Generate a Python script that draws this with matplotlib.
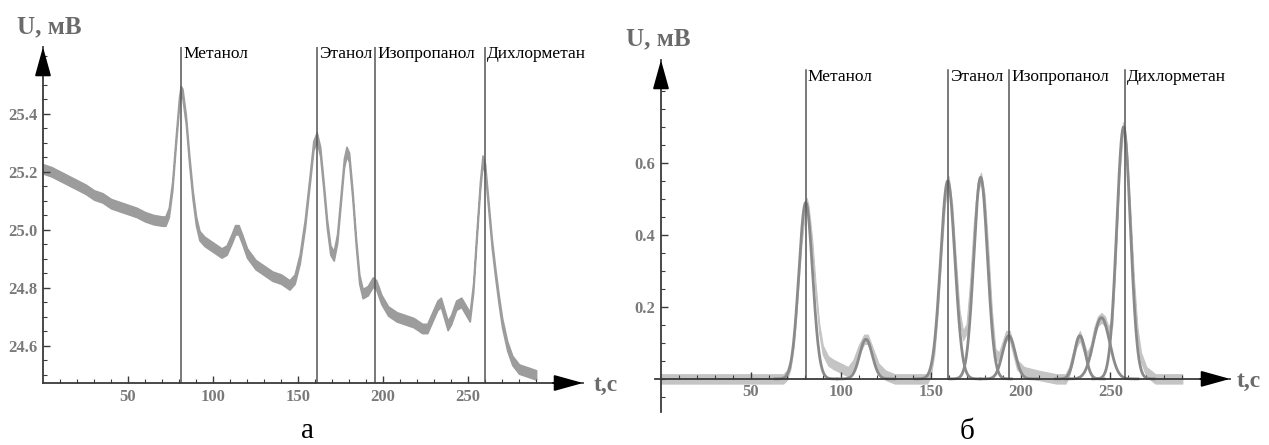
import numpy as np
import matplotlib
matplotlib.use('Agg')
import matplotlib.pyplot as plt

# Panel а: raw detector signal (centre of the noisy trace), t in s, U in mV
t_raw_a = [0, 5, 10, 15, 20, 25, 30, 35, 40, 45, 50, 55, 60, 65, 70, 72, 74, 76, 78, 80,
           81, 82, 84, 86, 88, 90, 92, 95, 100, 105, 108, 111, 113, 115, 117, 120, 125, 130,
           135, 140, 145, 148, 151, 154, 157, 159, 161, 163, 165, 167, 169, 171, 173, 175,
           177, 178.5, 180, 182, 184, 186, 188, 191, 194, 196, 199, 203, 208, 213, 218, 223,
           226, 229, 232, 234, 236, 238, 240, 243, 246, 249, 251, 253, 255, 257, 258.5, 260,
           262, 264, 266, 268, 270, 273, 276, 280, 285, 290]
u_raw_a = [25.21, 25.20, 25.185, 25.17, 25.155, 25.14, 25.12, 25.11, 25.09, 25.08, 25.07,
           25.06, 25.045, 25.035, 25.03, 25.03, 25.06, 25.15, 25.30, 25.44, 25.48, 25.47,
           25.38, 25.24, 25.12, 25.03, 24.98, 24.96, 24.94, 24.92, 24.93, 24.97, 25.00, 25.00,
           24.97, 24.92, 24.88, 24.86, 24.84, 24.83, 24.81, 24.83, 24.90, 25.02, 25.18, 25.29,
           25.32, 25.27, 25.15, 25.02, 24.93, 24.91, 24.97, 25.10, 25.23, 25.27, 25.25, 25.12,
           24.96, 24.83, 24.78, 24.79, 24.82, 24.81, 24.76, 24.72, 24.70, 24.69, 24.68, 24.66,
           24.66, 24.70, 24.74, 24.75, 24.71, 24.67, 24.69, 24.74, 24.75, 24.72, 24.70, 24.80,
           24.98, 25.15, 25.24, 25.21, 25.08, 24.95, 24.85, 24.76, 24.68, 24.60, 24.55, 24.52,
           24.51, 24.50]
noise_a = 0.016

# Panel б: baseline-corrected signal
t_raw_b = [0, 10, 20, 30, 40, 50, 60, 68, 70, 72, 74, 76, 78, 80, 81, 82, 84, 86, 88, 90,
           93, 96, 100, 104, 107, 110, 113, 115, 118, 121, 125, 130, 140, 148, 150, 152, 154,
           156, 158, 160, 162, 164, 166, 168, 170, 172, 174, 176, 178, 180, 182, 184, 186,
           188, 190, 192, 194, 196, 198, 202, 210, 220, 225, 227, 229, 231, 233, 235, 237,
           239, 241, 243, 245, 247, 249, 251, 253, 255, 257, 259, 261, 263, 265, 267, 270,
           275, 280, 285, 290]
u_raw_b = [0.0, 0.0, 0.0, 0.0, 0.0, 0.0, 0.0, 0.0, 0.01, 0.04, 0.11, 0.24, 0.38, 0.47, 0.49,
           0.47, 0.38, 0.25, 0.14, 0.08, 0.05, 0.04, 0.03, 0.02, 0.04, 0.08, 0.11, 0.11, 0.07,
           0.03, 0.01, 0.0, 0.0, 0.0, 0.02, 0.08, 0.20, 0.36, 0.50, 0.55, 0.47, 0.32, 0.18,
           0.12, 0.14, 0.26, 0.42, 0.53, 0.56, 0.50, 0.35, 0.18, 0.07, 0.06, 0.09, 0.12, 0.12,
           0.08, 0.04, 0.02, 0.01, 0.0, 0.0, 0.02, 0.06, 0.10, 0.12, 0.09, 0.06, 0.08, 0.13,
           0.16, 0.17, 0.16, 0.13, 0.16, 0.35, 0.58, 0.70, 0.64, 0.46, 0.27, 0.13, 0.06, 0.02,
           0.0, 0.0, 0.0, 0.0]
noise_b = 0.013

# Gaussian components fitted to panel б
peak_centers = [80.5, 114.0, 159.5, 177.8, 193.5, 233.0, 245.0, 257.3]
peak_heights = [0.49, 0.11, 0.55, 0.56, 0.12, 0.12, 0.17, 0.70]
peak_sigmas = [3.8, 3.5, 4.0, 3.8, 3.5, 3.0, 4.5, 3.8]

# Compound markers
names = ['Метанол', 'Этанол', 'Изопропанол', 'Дихлорметан']
marks_a = [81.2, 161.0, 195.3, 260.0]
marks_b = [80.5, 159.6, 193.5, 258.0]

x_ticks = [50, 100, 150, 200, 250]
y_ticks_a = [24.6, 24.8, 25.0, 25.2, 25.4]
y_ticks_b = [0.2, 0.4, 0.6]

W, H = 1269, 445
fig = plt.figure(figsize=(W / 100, H / 100), dpi=100)

serif = 'Liberation Serif'
axis_col = '#3a3a3a'
line_col = '#555555'
label_col = '#6a6a6a'


def px_axes(left, right, bottom, top):
    return fig.add_axes([left / W, (H - bottom) / H, (right - left) / W, (bottom - top) / H])


def style_axes(ax, yticks, ydec):
    for s in ['top', 'right']:
        ax.spines[s].set_visible(False)
    for s in ['left', 'bottom']:
        ax.spines[s].set_color(axis_col)
        ax.spines[s].set_linewidth(1.3)
    ax.set_xticks(x_ticks)
    ax.set_xticklabels([str(v) for v in x_ticks])
    ax.set_xticks(np.arange(10, 300, 10), minor=True)
    ax.set_yticks(yticks)
    ax.set_yticklabels([f'{v:.{ydec}f}' for v in yticks])
    ax.tick_params(direction='in', length=5, width=1, color=axis_col, pad=4)
    ax.tick_params(which='minor', direction='in', length=3, width=0.8, color=axis_col)
    for lab in ax.get_xticklabels() + ax.get_yticklabels():
        lab.set_fontfamily(serif)
        lab.set_fontweight('bold')
        lab.set_fontsize(12)
        lab.set_color('#7a7a7a')
    ax.patch.set_alpha(0)


arrow = dict(arrowstyle='-|>,head_length=1.8,head_width=0.5', color='black', lw=1.3,
             shrinkA=0, shrinkB=0)

# ---- panel а ----
ax1 = px_axes(43, 583, 383, 47)
ax1.set_xlim(0, 317.6)
ax1.set_ylim(24.472, 25.63)
ta = np.array(t_raw_a)
ua = np.array(u_raw_a)
ax1.fill_between(ta, ua - noise_a, ua + noise_a, color='#9c9c9c', lw=1.2, edgecolor='#9c9c9c')
for m, name in zip(marks_a, names):
    ax1.plot([m, m], [24.472, 25.63], color=line_col, lw=1.1)
    ax1.text(m + 1.2, 25.632, name, family=serif, size=12.5, va='top', ha='left')
style_axes(ax1, y_ticks_a, 1)
ax1.set_yticks(np.arange(24.5, 25.6, 0.05), minor=True)
ax1.annotate('', xy=(317.6, 24.472), xytext=(300, 24.472), arrowprops=arrow,
             annotation_clip=False)
ax1.annotate('', xy=(0, 25.63), xytext=(0, 25.57), arrowprops=arrow, annotation_clip=False)
fig.text(17 / W, (H - 33) / H, 'U, мВ', family=serif, weight='bold', size=18,
         color=label_col, va='baseline')
fig.text(594 / W, (H - 385) / H, 't,c', family=serif, weight='bold', size=17,
         color=label_col, va='center')
fig.text(307 / W, (H - 444) / H, 'а', family=serif, size=21, ha='center', va='bottom')

# ---- panel б ----
ax2 = px_axes(654.7, 1230, 412, 60)
ax2.set_xlim(-3.5, 316.5)
ax2.set_ylim(-0.092, 0.886)
ax2.spines['left'].set_position(('data', 0))
ax2.spines['bottom'].set_position(('data', 0))
tb = np.array(t_raw_b)
ub = np.array(u_raw_b)
ax2.fill_between(tb, ub - noise_b, ub + noise_b, color='#c4c4c4', lw=0.8, edgecolor='#c4c4c4')
for c, h, s in zip(peak_centers, peak_heights, peak_sigmas):
    tg = np.linspace(c - 4.5 * s, c + 4.5 * s, 200)
    ax2.plot(tg, h * np.exp(-0.5 * ((tg - c) / s) ** 2), color='#8a8a8a', lw=2)
for m, name in zip(marks_b, names):
    ax2.plot([m, m], [0, 0.858], color=line_col, lw=1.1)
    ax2.text(m + 1.2, 0.86, name, family=serif, size=12.5, va='top', ha='left')
style_axes(ax2, y_ticks_b, 1)
ax2.set_yticks(np.arange(-0.05, 0.85, 0.05), minor=True)
ax2.annotate('', xy=(316.5, 0), xytext=(300, 0), arrowprops=arrow, annotation_clip=False)
ax2.annotate('', xy=(0, 0.886), xytext=(0, 0.84), arrowprops=arrow, annotation_clip=False)
fig.text(626 / W, (H - 45) / H, 'U, мВ', family=serif, weight='bold', size=18,
         color=label_col, va='baseline')
fig.text(1237 / W, (H - 381) / H, 't,c', family=serif, weight='bold', size=17,
         color=label_col, va='center')
fig.text(967 / W, (H - 445) / H, 'б', family=serif, size=21, ha='center', va='bottom')

fig.savefig('out.png', dpi=100, facecolor='white')
